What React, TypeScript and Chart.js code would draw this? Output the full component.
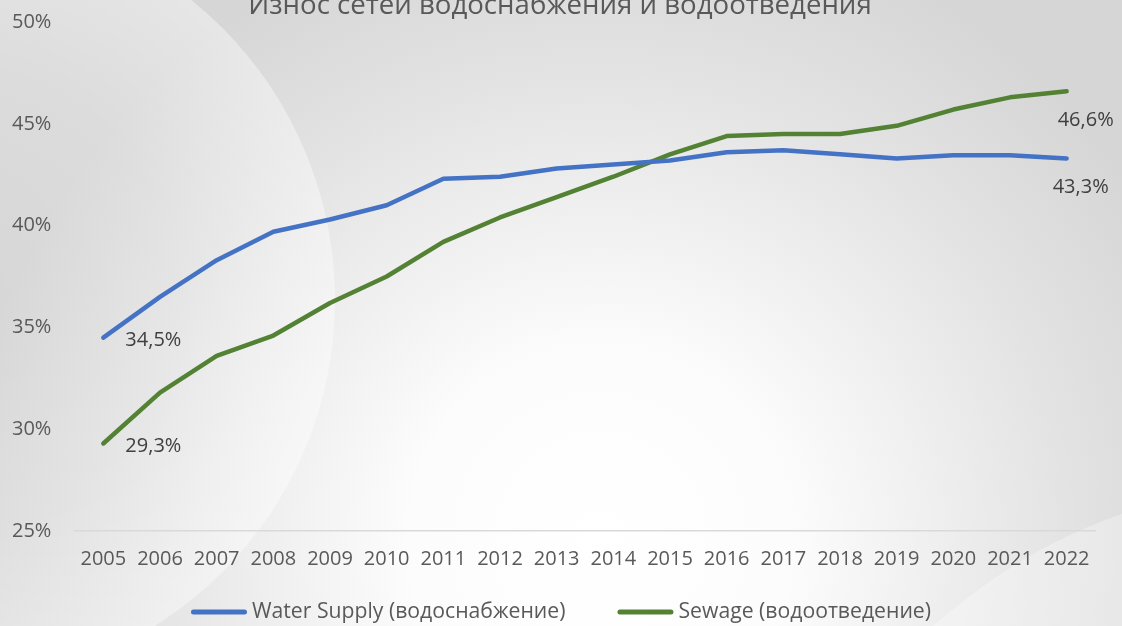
import React, { useEffect, useRef } from 'react';
import { Chart, registerables } from 'chart.js';

Chart.register(...registerables);

const TITLE = 'Износ сетей водоснабжения и водоотведения';
const years = ['2005', '2006', '2007', '2008', '2009', '2010', '2011', '2012', '2013', '2014', '2015', '2016', '2017', '2018', '2019', '2020', '2021', '2022'];
const waterSupply = [34.5, 36.5, 38.3, 39.7, 40.3, 41.0, 42.3, 42.4, 42.8, 43.0, 43.2, 43.6, 43.7, 43.5, 43.3, 43.45, 43.45, 43.3];
const sewage = [29.3, 31.8, 33.6, 34.6, 36.2, 37.5, 39.2, 40.4, 41.4, 42.4, 43.5, 44.4, 44.5, 44.5, 44.9, 45.7, 46.3, 46.6];
const seriesNames = ['Water Supply (водоснабжение)', 'Sewage (водоотведение)'];
const seriesColors = ['#4472C4', '#548235'];
const yMin = 25;
const yMax = 50;
const yStep = 5;

const FONT = '"Open Sans", "Noto Sans", "DejaVu Sans", sans-serif';
const fmt = (v: number) => v.toFixed(1).replace('.', ',') + '%';

const backgroundPlugin = {
  id: 'bgPlugin',
  beforeDraw(chart: any) {
    const { ctx, width, height } = chart;
    ctx.save();
    ctx.fillStyle = '#d7d7d7';
    ctx.fillRect(0, 0, width, height);
    const g = ctx.createRadialGradient(600, 540, 0, 600, 540, 640);
    g.addColorStop(0, '#ffffff');
    g.addColorStop(0.3, '#fcfcfc');
    g.addColorStop(0.75, '#e2e2e2');
    g.addColorStop(1, '#d6d6d6');
    ctx.fillStyle = g;
    ctx.fillRect(0, 0, width, height);
    // left disk
    ctx.beginPath();
    ctx.arc(-50, 300, 385, 0, Math.PI * 2);
    const g2 = ctx.createRadialGradient(-50, 300, 0, -50, 300, 385);
    g2.addColorStop(0, 'rgba(255,255,255,0.0)');
    g2.addColorStop(0.6, 'rgba(255,255,255,0.15)');
    g2.addColorStop(1, 'rgba(255,255,255,0.4)');
    ctx.fillStyle = g2;
    ctx.fill();
    // bottom-right light band
    ctx.beginPath();
    ctx.moveTo(933, 626);
    ctx.bezierCurveTo(970, 595, 1030, 545, 1122, 514);
    ctx.lineTo(1122, 626);
    ctx.closePath();
    ctx.fillStyle = 'rgba(255,255,255,0.3)';
    ctx.fill();
    // title (clipped at top)
    ctx.font = `27.6px ${FONT}`;
    ctx.fillStyle = '#595959';
    ctx.textAlign = 'center';
    ctx.textBaseline = 'alphabetic';
    ctx.fillText(TITLE, 560, 14);
    ctx.restore();
  },
};

const labelsPlugin = {
  id: 'endLabels',
  afterDatasetsDraw(chart: any) {
    const { ctx } = chart;
    const lastOffsets = [14, 19];
    ctx.save();
    ctx.font = `20px ${FONT}`;
    ctx.fillStyle = '#404040';
    ctx.textBaseline = 'middle';
    chart.data.datasets.forEach((ds: any, i: number) => {
      const meta = chart.getDatasetMeta(i);
      const pts = meta.data;
      const n = pts.length;
      ctx.textAlign = 'left';
      ctx.fillText(fmt(ds.data[0]), pts[0].x + 22, pts[0].y + 3);
      ctx.textAlign = 'center';
      ctx.fillText(fmt(ds.data[n - 1]), pts[n - 1].x + lastOffsets[i], pts[n - 1].y + 29);
    });
    ctx.restore();
  },
};

const legendPlugin = {
  id: 'customLegend',
  afterDraw(chart: any) {
    const { ctx, width } = chart;
    const lineW = 56;
    const gap = 5;
    const itemGap = 52;
    const y = 612;
    ctx.save();
    ctx.font = `21.2px ${FONT}`;
    const items = chart.data.datasets.map((ds: any) => ({
      text: ds.label,
      color: ds.borderColor,
      w: ctx.measureText(ds.label).width,
    }));
    const total = items.reduce((s: number, it: any) => s + lineW + gap + it.w, 0) + itemGap * (items.length - 1);
    let x = width / 2 - total / 2;
    items.forEach((it: any) => {
      ctx.strokeStyle = it.color;
      ctx.lineWidth = 5;
      ctx.lineCap = 'round';
      ctx.beginPath();
      ctx.moveTo(x + 2.5, y);
      ctx.lineTo(x + lineW - 2.5, y);
      ctx.stroke();
      ctx.fillStyle = '#595959';
      ctx.textAlign = 'left';
      ctx.textBaseline = 'middle';
      ctx.fillText(it.text, x + lineW + gap, y);
      x += lineW + gap + it.w + itemGap;
    });
    ctx.restore();
  },
};

export default function App() {
  const ref = useRef<HTMLCanvasElement | null>(null);
  useEffect(() => {
    if (!ref.current) return;
    const chart = new Chart(ref.current, {
      type: 'line',
      data: {
        labels: years,
        datasets: [
          {
            label: seriesNames[0],
            data: waterSupply,
            borderColor: seriesColors[0],
            backgroundColor: seriesColors[0],
            borderWidth: 4.5,
            pointRadius: 0,
            borderCapStyle: 'round',
            borderJoinStyle: 'round',
            tension: 0,
          },
          {
            label: seriesNames[1],
            data: sewage,
            borderColor: seriesColors[1],
            backgroundColor: seriesColors[1],
            borderWidth: 4.5,
            pointRadius: 0,
            borderCapStyle: 'round',
            borderJoinStyle: 'round',
            tension: 0,
          },
        ],
      },
      options: {
        responsive: false,
        animation: false,
        layout: { padding: { top: 22, right: 27, left: 12, bottom: 0 } },
        plugins: {
          legend: { display: false },
          title: { display: false },
          tooltip: { enabled: false },
        },
        scales: {
          x: {
            offset: true,
            grid: { display: false, drawTicks: false },
            border: { display: true, color: '#d9d9d9', width: 1.5 },
            ticks: {
              color: '#595959',
              font: { family: FONT, size: 20 },
              padding: 16,
              maxRotation: 0,
              autoSkip: false,
            },
            afterFit(scale: any) {
              scale.height = 95;
            },
          },
          y: {
            min: yMin,
            max: yMax,
            grid: { display: false, drawTicks: false },
            border: { display: false },
            ticks: {
              stepSize: yStep,
              color: '#595959',
              font: { family: FONT, size: 20 },
              padding: 0,
              crossAlign: 'far',
              callback: (v: any) => v + '%',
            },
            afterFit(scale: any) {
              scale.width = 63;
            },
          },
        },
      },
      plugins: [backgroundPlugin, labelsPlugin, legendPlugin],
    });
    return () => chart.destroy();
  }, []);
  return (
    <div style={{ position: 'fixed', left: 0, top: 0, width: 1122, height: 626, overflow: 'hidden' }}>
      <canvas ref={ref} width={1122} height={626} style={{ display: 'block' }} />
    </div>
  );
}
